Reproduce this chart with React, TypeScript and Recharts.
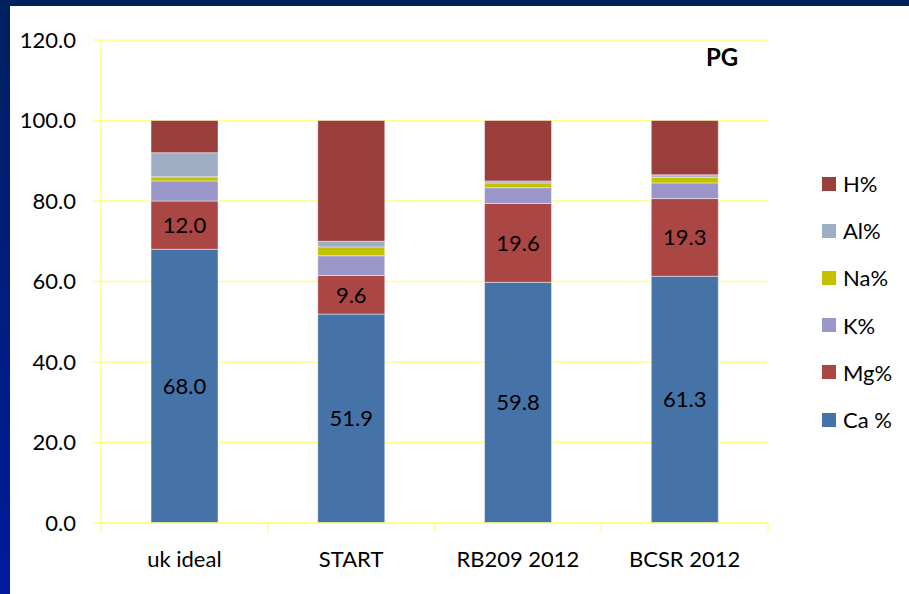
import { BarChart, Bar, XAxis, YAxis, CartesianGrid, LabelList } from 'recharts';

const categories = ['uk ideal', 'START', 'RB209 2012', 'BCSR 2012'];
const caValues = [68.0, 51.9, 59.8, 61.3];
const mgValues = [12.0, 9.6, 19.6, 19.3];
const kValues = [5.0, 4.9, 3.9, 3.9];
const naValues = [1.0, 2.2, 1.2, 1.4];
const alValues = [6.0, 1.4, 0.5, 0.6];
const hValues = [8.0, 30.0, 15.0, 13.5];
const yTicks = [0, 20, 40, 60, 80, 100, 120];

const series = [
  { key: 'ca', name: 'Ca %', color: '#4572A7', label: true },
  { key: 'mg', name: 'Mg%', color: '#AA4643', label: true },
  { key: 'k', name: 'K%', color: '#9A96C9', label: false },
  { key: 'na', name: 'Na%', color: '#C4C200', label: false },
  { key: 'al', name: 'Al%', color: '#9DAEC5', label: false },
  { key: 'h', name: 'H%', color: '#9A3E3C', label: false },
];

const data = categories.map((name, i) => ({
  name,
  ca: caValues[i],
  mg: mgValues[i],
  k: kValues[i],
  na: naValues[i],
  al: alValues[i],
  h: hValues[i],
}));

const FONT = 'Lato, "Open Sans", sans-serif';
const GRID = '#FFFF88';
const W = 899;
const H = 588;
const PLOT_LEFT = 91;
const PLOT_RIGHT = 141;
const PLOT_W = W - PLOT_LEFT - PLOT_RIGHT;
const HALF_BAND = PLOT_W / categories.length / 2;

// category labels with tick marks at the category boundaries (Excel style)
function CategoryTick(props: any) {
  const { x, y, payload, index } = props;
  const last = index === categories.length - 1;
  return (
    <g>
      <line x1={x - HALF_BAND} x2={x - HALF_BAND} y1={y} y2={y + 9} stroke={GRID} strokeWidth={1.5} />
      {last && <line x1={x + HALF_BAND} x2={x + HALF_BAND} y1={y} y2={y + 9} stroke={GRID} strokeWidth={1.5} />}
      <text x={x} y={y + 44} textAnchor="middle" fill="#000" fontSize={22} fontFamily={FONT}>
        {payload.value}
      </text>
    </g>
  );
}

function LegendBox() {
  const items = [...series].reverse();
  return (
    <div style={{ position: 'absolute', left: 812, top: 154, fontFamily: FONT, fontSize: 22, color: '#000' }}>
      {items.map((s) => (
        <div key={s.key} style={{ display: 'flex', alignItems: 'center', height: 47.2 }}>
          <span style={{ width: 14, height: 14, background: s.color, marginRight: 7, display: 'inline-block' }} />
          <span>{s.name}</span>
        </div>
      ))}
    </div>
  );
}

export default function App() {
  return (
    <div
      style={{
        position: 'fixed',
        left: 0,
        top: 0,
        width: 909,
        height: 594,
        background: 'linear-gradient(180deg, #00205F 0%, #001A9C 100%)',
        overflow: 'hidden',
      }}
    >
      <div style={{ position: 'absolute', left: 10, top: 6, width: W, height: H, background: '#fff' }}>
        <BarChart
          width={W}
          height={H}
          data={data}
          margin={{ top: 34, right: PLOT_RIGHT, bottom: 31, left: 0 }}
          barCategoryGap="30%"
        >
          <CartesianGrid vertical={false} stroke={GRID} strokeWidth={1.5} />
          <XAxis
            dataKey="name"
            height={40}
            axisLine={{ stroke: GRID, strokeWidth: 1.5 }}
            tickLine={false}
            tickSize={0}
            tickMargin={0}
            tick={<CategoryTick />}
            interval={0}
          />
          <YAxis
            width={PLOT_LEFT}
            domain={[0, 120]}
            ticks={yTicks}
            tickFormatter={(v: number) => v.toFixed(1)}
            axisLine={{ stroke: GRID, strokeWidth: 1.5 }}
            tickLine={{ stroke: GRID, strokeWidth: 1.5 }}
            tickSize={8}
            tickMargin={17}
            tick={{ fill: '#000', fontSize: 22, fontFamily: FONT }}
          />
          {series.map((s) => (
            <Bar
              key={s.key}
              dataKey={s.key}
              name={s.name}
              stackId="a"
              fill={s.color}
              stroke="rgba(255,255,255,0.45)"
              strokeWidth={1}
              isAnimationActive={false}
            >
              {s.label && (
                <LabelList
                  dataKey={s.key}
                  position="center"
                  formatter={(v: any) => Number(v).toFixed(1)}
                  fill="#000"
                  fontSize={22}
                  fontFamily={FONT}
                />
              )}
            </Bar>
          ))}
        </BarChart>
        <LegendBox />
        <div
          style={{
            position: 'absolute',
            left: 696,
            top: 34,
            fontFamily: FONT,
            fontSize: 24,
            fontWeight: 700,
            lineHeight: '34px',
            color: '#000',
          }}
        >
          PG
        </div>
      </div>
    </div>
  );
}
